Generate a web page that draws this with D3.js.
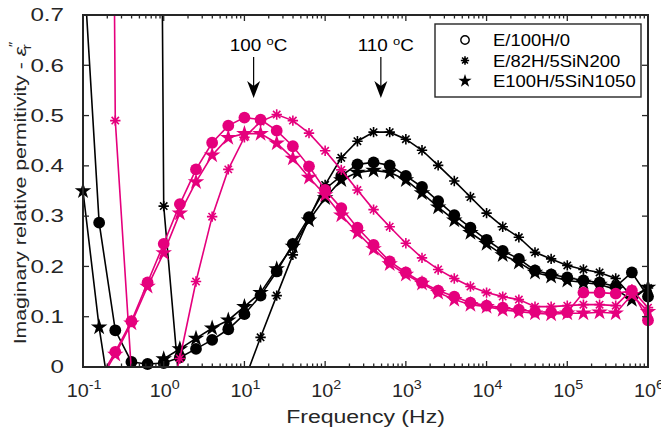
<!DOCTYPE html>
<html>
<head>
<meta charset="utf-8">
<script src="https://cdn.jsdelivr.net/npm/d3@7"></script>
<style>
  body { margin: 0; background: #fff; }
  svg { display: block; font-family: "Liberation Sans", Arial, sans-serif; }
</style>
</head>
<body>
<div id="chart"></div>
<script>
// frequency grid (log10 of Hz), 5 points per decade
const LOG_F = [-1, -0.8, -0.6, -0.4, -0.2, 0, 0.2, 0.4, 0.6, 0.8, 1, 1.2, 1.4, 1.6, 1.8, 2, 2.2, 2.4, 2.6, 2.8,
               3, 3.2, 3.4, 3.6, 3.8, 4, 4.2, 4.4, 4.6, 4.8, 5, 5.2, 5.4, 5.6, 5.8, 6];

// 110 C (black)
const BLK_CIRCLE = [0.82, 0.287, 0.073, 0.01, 0.006, 0.008, 0.019, 0.036, 0.054, 0.075, 0.105, 0.142, 0.19, 0.245, 0.298, 0.354, 0.38, 0.403, 0.407, 0.401,
                    0.38, 0.358, 0.33, 0.302, 0.277, 0.253, 0.231, 0.215, 0.192, 0.184, 0.178, 0.172, 0.168, 0.16, 0.188, 0.14];
const BLK_ASTER  = [40, 30, 22, 15, 10, 0.32, -0.05, -0.06, -0.05, -0.04, -0.027, 0.059, 0.142, 0.223, 0.295, 0.362, 0.416, 0.449, 0.467, 0.467,
                    0.453, 0.431, 0.401, 0.37, 0.338, 0.306, 0.279, 0.258, 0.228, 0.215, 0.202, 0.194, 0.188, 0.176, 0.14, 0.157];
const BLK_STAR   = [0.35, 0.079, -0.13, -0.09, -0.035, 0.016, 0.036, 0.057, 0.077, 0.093, 0.12, 0.148, 0.195, 0.24, 0.292, 0.336, 0.372, 0.387, 0.391, 0.387,
                    0.372, 0.346, 0.318, 0.292, 0.267, 0.245, 0.223, 0.208, 0.188, 0.18, 0.172, 0.168, 0.164, 0.154, 0.134, 0.158];

// 100 C (magenta)
const PNK_CIRCLE = [-0.06, -0.025, 0.03, 0.091, 0.168, 0.245, 0.324, 0.393, 0.446, 0.48, 0.496, 0.492, 0.47, 0.439, 0.399, 0.352, 0.316, 0.277, 0.243, 0.21,
                    0.188, 0.168, 0.152, 0.14, 0.128, 0.122, 0.118, 0.114, 0.11, 0.109, 0.109, 0.148, 0.148, 0.146, 0.152, 0.093];
const PNK_ASTER  = [12, 5, 0.49, -0.01, -0.06, -0.1, 0.017, 0.17, 0.299, 0.393, 0.457, 0.488, 0.502, 0.49, 0.465, 0.43, 0.392, 0.352, 0.313, 0.279,
                    0.246, 0.217, 0.194, 0.176, 0.16, 0.148, 0.14, 0.134, 0.12, 0.12, 0.122, 0.124, 0.124, 0.122, 0.154, 0.118];
const PNK_STAR   = [-0.07, -0.03, 0.025, 0.087, 0.16, 0.227, 0.306, 0.368, 0.421, 0.456, 0.464, 0.464, 0.445, 0.415, 0.377, 0.342, 0.302, 0.267, 0.235, 0.205,
                    0.184, 0.166, 0.148, 0.134, 0.124, 0.12, 0.114, 0.11, 0.107, 0.105, 0.107, 0.107, 0.109, 0.107, 0.144, 0.11];

const LEGEND = ["E/100H/0", "E/82H/5SiN200", "E100H/5SiN1050"];
const Y_TICKS = [0, 0.1, 0.2, 0.3, 0.4, 0.5, 0.6, 0.7];
const X_DECADES = [-1, 0, 1, 2, 3, 4, 5, 6];
const ANNOTATIONS = [{ label: "100", f: 13 }, { label: "110", f: 490 }];

const PINK = "#e5007d", BLACK = "#000";
const W = 661, H = 438;
const m = { left: 83, right: 13, top: 15, bottom: 71 };

const svg = d3.select("#chart").append("svg").attr("width", W).attr("height", H);

const x = d3.scaleLog().domain([0.1, 1e6]).range([m.left, W - m.right]);
const y = d3.scaleLinear().domain([0, 0.7]).range([H - m.bottom, m.top]);

svg.append("defs").append("clipPath").attr("id", "plot-clip")
  .append("rect").attr("x", m.left).attr("y", m.top)
  .attr("width", W - m.left - m.right).attr("height", H - m.top - m.bottom);

const freqs = LOG_F.map(e => Math.pow(10, e));
const toPts = vals => vals.map((v, i) => ({ f: freqs[i], v }));

const series = [
  { vals: BLK_CIRCLE, color: BLACK, marker: "circle" },
  { vals: BLK_ASTER,  color: BLACK, marker: "aster" },
  { vals: BLK_STAR,   color: BLACK, marker: "star" },
  { vals: PNK_CIRCLE, color: PINK,  marker: "circle" },
  { vals: PNK_ASTER,  color: PINK,  marker: "aster" },
  { vals: PNK_STAR,   color: PINK,  marker: "star" }
];

const line = d3.line().x(d => x(d.f)).y(d => y(Math.max(-5, Math.min(5, d.v))));
const starPath = d3.symbol().type(d3.symbolStar).size(85)();

function asterPath(r) {
  const d = r * Math.SQRT1_2;
  return `M0,${-r}L0,${r}M${-r},0L${r},0M${-d},${-d}L${d},${d}M${-d},${d}L${d},${-d}`;
}

function drawMarker(g, type, color, scale) {
  scale = scale || 1;
  if (type === "circle") {
    g.append("circle").attr("r", 5.9 * scale).attr("fill", color);
  } else if (type === "star") {
    g.append("path").attr("d", starPath).attr("fill", color)
      .attr("transform", `scale(${scale})`);
  } else {
    g.append("path").attr("d", asterPath(5.2 * scale)).attr("stroke", color)
      .attr("stroke-width", 1.6).attr("fill", "none");
  }
}

series.forEach(s => {
  const pts = toPts(s.vals);
  svg.append("path").datum(pts)
    .attr("clip-path", "url(#plot-clip)")
    .attr("d", line).attr("fill", "none")
    .attr("stroke", s.color).attr("stroke-width", 1.6);
  const g = svg.append("g");
  pts.filter(d => d.v >= 0 && d.v <= 0.7).forEach(d => {
    const mg = g.append("g").attr("transform", `translate(${x(d.f)},${y(d.v)})`);
    drawMarker(mg, s.marker, s.color);
  });
});

// axes box with inward ticks (MATLAB style)
const axColor = "#262626";
const x0 = m.left, x1 = W - m.right, y0 = H - m.bottom, y1 = m.top;
const ax = svg.append("g").attr("stroke", axColor).attr("stroke-width", 1.3);

const minor = [];
X_DECADES.slice(0, -1).forEach(e => { for (let k = 2; k <= 9; k++) minor.push(k * Math.pow(10, e)); });
const major = X_DECADES.map(e => Math.pow(10, e));

major.forEach(f => {
  ax.append("line").attr("x1", x(f)).attr("x2", x(f)).attr("y1", y0).attr("y2", y0 - 6);
  ax.append("line").attr("x1", x(f)).attr("x2", x(f)).attr("y1", y1).attr("y2", y1 + 6);
});
minor.forEach(f => {
  ax.append("line").attr("x1", x(f)).attr("x2", x(f)).attr("y1", y0).attr("y2", y0 - 3.5);
  ax.append("line").attr("x1", x(f)).attr("x2", x(f)).attr("y1", y1).attr("y2", y1 + 3.5);
});
Y_TICKS.forEach(t => {
  ax.append("line").attr("x1", x0).attr("x2", x0 + 6).attr("y1", y(t)).attr("y2", y(t));
  ax.append("line").attr("x1", x1).attr("x2", x1 - 6).attr("y1", y(t)).attr("y2", y(t));
});
svg.append("rect").attr("x", x0).attr("y", y1).attr("width", x1 - x0).attr("height", y0 - y1)
  .attr("fill", "none").attr("stroke", axColor).attr("stroke-width", 2);

// tick labels (the source figure renders its text noticeably wide)
svg.append("g").selectAll("text").data(Y_TICKS).enter().append("text")
  .attr("transform", d => `translate(64,${y(d) + 6.3}) scale(1.38,1)`)
  .attr("text-anchor", "end").attr("font-size", 17.5).attr("fill", axColor)
  .text(d => d === 0 ? "0" : d3.format(".1f")(d));

X_DECADES.forEach(e => {
  const t = svg.append("text")
    .attr("transform", `translate(${x(Math.pow(10, e)) + 1},${y0 + 30}) scale(1.1,1)`)
    .attr("text-anchor", "middle").attr("font-size", 18).attr("fill", axColor);
  t.append("tspan").text("10");
  t.append("tspan").attr("dy", -8).attr("font-size", 13).text(e < 0 ? "-" + (-e) : String(e));
});

// axis titles
svg.append("text")
  .attr("transform", `translate(${(x0 + x1) / 2},${y0 + 56}) scale(1.28,1)`)
  .attr("text-anchor", "middle").attr("font-size", 18).attr("fill", axColor)
  .text("Frequency (Hz)");

const yl = svg.append("text")
  .attr("transform", `translate(26,193) rotate(-90) scale(1.25,1)`)
  .attr("text-anchor", "middle").attr("font-size", 17).attr("fill", axColor);
yl.append("tspan").text("Imaginary relative permitivity - ");
yl.append("tspan").attr("font-style", "italic").text("\u03B5");
yl.append("tspan").attr("dy", -8).attr("font-size", 12).text("\u2033");
yl.append("tspan").attr("dx", -6).attr("dy", 13).attr("font-size", 12).text("r");

// temperature annotations with arrows
ANNOTATIONS.forEach(a => {
  const ax_ = x(a.f);
  const t = svg.append("text")
    .attr("transform", `translate(${ax_ + 5},51) scale(1.18,1)`)
    .attr("text-anchor", "middle").attr("font-size", 16).attr("fill", "#000");
  t.append("tspan").text(a.label + " ");
  t.append("tspan").attr("dy", -6).attr("font-size", 11).text("o");
  t.append("tspan").attr("dy", 6).text("C");
  svg.append("line").attr("x1", ax_).attr("x2", ax_).attr("y1", 57).attr("y2", 90)
    .attr("stroke", "#000").attr("stroke-width", 1.2);
  svg.append("path")
    .attr("d", `M${ax_},98L${ax_ - 6.5},81L${ax_},86L${ax_ + 6.5},81Z`)
    .attr("fill", "#000");
});

// legend
const lg = svg.append("g");
lg.append("rect").attr("x", 435).attr("y", 24).attr("width", 206).attr("height", 73)
  .attr("fill", "#fff").attr("stroke", axColor).attr("stroke-width", 1.4);
const lgTypes = ["circle", "aster", "star"];
LEGEND.forEach((name, i) => {
  const cy = 40 + i * 20.5;
  const mg = lg.append("g").attr("transform", `translate(465,${cy})`);
  if (lgTypes[i] === "circle") {
    mg.append("circle").attr("r", 4.2).attr("fill", "none").attr("stroke", "#000").attr("stroke-width", 1.4);
  } else {
    drawMarker(mg, lgTypes[i], "#000", 0.8);
  }
  lg.append("text").attr("transform", `translate(493,${cy + 6}) scale(1.12,1)`)
    .attr("font-size", 16.5).attr("fill", "#000").text(name);
});
</script>
</body>
</html>
